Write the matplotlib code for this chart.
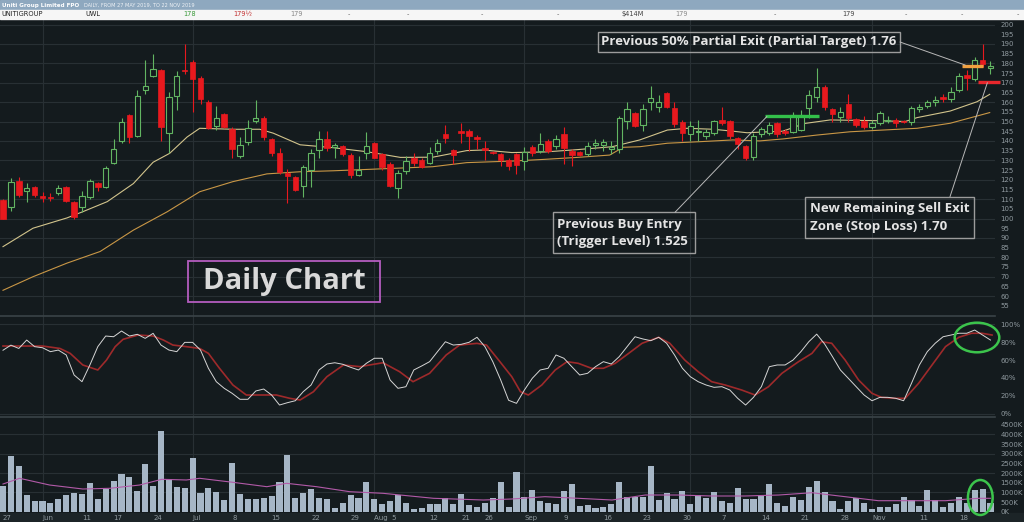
import matplotlib
matplotlib.use("Agg")
import matplotlib.pyplot as plt
from matplotlib.patches import Rectangle, Ellipse, ConnectionPatch

# ---- data (UWL daily, 27 May - 22 Nov 2019, cents) ----
opens = [109.5, 106, 119.5, 114.3, 116.4, 111.6, 111, 113, 116.4, 108.7,
         105.8, 111.2, 118.4, 116, 128.5, 140, 153.4, 142.5, 166, 173.6,
         176.5, 144, 163, 176.6, 180.5, 172.6, 160.2, 147.8, 153.7, 146,
         132.2, 139.6, 150.3, 152, 140.8, 133.6, 123.6, 121.2, 116.8, 125,
         135.3, 141, 136.7, 137.4, 132.7, 122.4, 133.9, 138.8, 133.1, 128,
         115.6, 124.6, 131, 130.2, 128.8, 134.8, 143.4, 135.3, 145.1, 145,
         142.2, 136.2, 134, 133.1, 130.2, 133, 129.6, 136.7, 135, 140.1,
         137.5, 143.6, 135, 134.3, 133.2, 137.9, 138, 135.7, 135.7, 150.3,
         154.2, 148.2, 159.9, 157.6, 164.5, 157, 150, 143.6, 144.8, 142.5,
         143.9, 150.8, 150.3, 141.3, 137.4, 131.9, 143.6, 143.9, 149.1, 145.1,
         144.7, 145.6, 157.1, 162.5, 168, 156.4, 152.5, 159, 151.3, 150.3,
         147.3, 149.1, 150.5, 150.8, 150.3, 149.6, 156.4, 158, 159.9, 162.5,
         161.4, 166.2, 174, 172, 181.7, 177.7]
highs = [110, 121, 121.5, 118.3, 117, 113.5, 113, 117.5, 117, 109,
         114, 120.5, 119, 127, 141, 151.6, 154, 166, 181.7, 184.6,
         177, 165, 176, 189.8, 181.7, 173.5, 161, 158, 154.5, 147,
         142, 151, 161, 153, 141.5, 136.5, 125.4, 122, 127.5, 136,
         145.3, 145, 139, 138, 134, 132, 144.6, 139.5, 134, 129,
         125, 132, 134, 131, 137, 141, 148.4, 136, 149, 146,
         143, 140, 135, 134, 131, 134, 137, 138, 144.3, 141,
         143, 147.2, 136, 135, 139.5, 141, 141, 140, 153, 159.8,
         155, 159, 168.3, 163.5, 165, 160, 151, 150.5, 151, 146,
         151, 157.7, 151, 142, 138, 144, 147, 150, 150, 146,
         155, 156, 166, 177.4, 169, 157, 157.5, 164, 152, 153,
         151, 155.5, 153, 152, 151, 158, 159, 161, 163, 164,
         168, 175, 176.8, 183, 189.8, 181]
lows = [100, 104, 111, 108.7, 111, 108.7, 109, 112, 108.5, 100,
        103.5, 110, 114, 115.5, 128, 139, 139, 142, 164, 173,
        140, 133.6, 156, 174.5, 155, 159, 146, 145.4, 146.5, 131,
        131, 138, 149, 140.5, 132, 123, 108, 114, 111, 116.4,
        131, 135, 131, 132, 121, 122, 130.5, 131, 125, 116,
        110.4, 123, 127, 126, 128, 133, 139, 128, 139, 135,
        136, 130, 133, 127, 125, 123, 125, 132, 134, 134,
        136, 128, 127, 132, 132, 136, 135, 133, 134, 146,
        147, 145, 156, 155, 157, 147, 140, 140, 140, 141,
        143, 148, 141, 136, 130, 130, 142, 143, 142, 143,
        144, 145, 152, 160, 156, 150, 150, 150, 147, 146,
        146, 148, 149, 147, 149, 148, 155, 157, 158, 160,
        160, 165, 166, 171, 178, 174.5]
closes = [100, 119, 112, 115.6, 112, 110.4, 110.5, 115.6, 109, 100.6,
          111.6, 119.5, 116.4, 126, 135.7, 149.6, 142.2, 163, 168.3, 177,
          147.3, 162.5, 173.6, 176, 171.8, 161.4, 146.8, 151.6, 147.3, 135.7,
          138, 146.8, 152, 142.2, 134, 124.1, 122, 114.7, 126.7, 134,
          141, 136.2, 137.9, 133.1, 122.4, 125, 137.5, 131.4, 126.4, 117,
          123.3, 129.8, 128.5, 126.7, 133.6, 138.8, 141.3, 132.7, 143.9, 142.7,
          141, 135.3, 133.8, 130.2, 127.1, 127.6, 134.4, 133.6, 138.2, 135,
          141, 136.2, 132.7, 132.7, 137.4, 138.8, 139.6, 137.1, 152, 156.3,
          147.7, 156.3, 162, 159.9, 157.6, 148.6, 144.2, 147.8, 145.3, 144.4,
          150.3, 149.1, 142.5, 138.2, 131, 142.5, 146, 148.2, 143.4, 143.9,
          153.4, 153.4, 163.7, 168, 157.6, 153.9, 154.7, 151.6, 148.2, 147.3,
          149.4, 154.5, 151, 149.4, 149.8, 156.8, 157.6, 160.2, 161, 161.4,
          165.4, 173.6, 172.6, 181.7, 179.5, 178.8]
volume_k = [1345, 2896, 2363, 863, 569, 569, 434, 641, 863, 951,
            915, 1468, 641, 1158, 1603, 1949, 1810, 1086, 2466, 1345,
            4188, 1675, 1262, 1241, 2761, 951, 1210, 1034, 605, 2534,
            900, 657, 657, 724, 812, 1551, 2932, 724, 982, 1174,
            693, 641, 176, 465, 863, 693, 1520, 657, 398, 569,
            848, 434, 155, 176, 398, 398, 693, 398, 915, 346,
            227, 465, 724, 1551, 227, 2037, 776, 1107, 553, 465,
            398, 1055, 1432, 295, 346, 191, 259, 383, 1520, 776,
            745, 745, 2363, 605, 982, 657, 1086, 398, 863, 693,
            1019, 569, 434, 1210, 657, 657, 863, 1432, 465, 310,
            745, 605, 1293, 1588, 1019, 569, 140, 569, 724, 434,
            140, 259, 259, 383, 776, 605, 310, 1107, 605, 259,
            465, 776, 465, 1122, 1174, 434]
stoch_k = [71, 76.7, 73, 82.4, 75, 73.8, 69.4, 71.2, 65.7, 43.3,
           35.8, 54.5, 75, 86.9, 86.1, 92.5, 86.9, 88.8, 84.3, 89.9,
           76.8, 71.2, 69.4, 79.8, 79.8, 71.2, 50.8, 35.8, 28.4, 22.8,
           16.1, 16.1, 25.4, 27.6, 20.9, 9.7, 12.3, 14.5, 24.6, 32.1,
           48.9, 55.6, 57.0, 55.3, 51.9, 48.9, 56.4, 62, 62, 37.7,
           28.4, 30.2, 48.9, 53.4, 58.2, 69.4, 80.5, 76.8, 77.6, 79.9,
           85.5, 75, 58.2, 37.7, 15, 11.6, 26.5, 39.6, 48.9, 50.8,
           65.7, 62, 52.6, 43.3, 45.2, 52.6, 58.2, 55.6, 63.8, 75,
           86.1, 83.6, 81.7, 85.5, 78.8, 65.7, 50.8, 41.4, 35.8, 32.1,
           29.5, 30.2, 26.5, 17.2, 9.7, 18.3, 30.2, 52.6, 54.5, 54.5,
           60, 69.4, 80.5, 89, 78, 63.8, 48.9, 39.6, 30.2, 20.9,
           14.5, 18.3, 18.3, 17.2, 14.5, 34, 54.5, 69.4, 78.8, 86.1,
           88, 90, 90, 93.6, 88, 82.4]
stoch_d_idx = [0, 2, 5, 7.2, 8.5, 10.1, 12, 13.1, 14.2, 15.2, 17.1, 19, 20.3, 21.5,
               23.2, 24.9, 26, 27.4, 29.1, 30.8, 32.9, 34.6, 36.3, 37.6, 39.3, 41,
               43.1, 45.2, 46.4, 48.1, 50.2, 51.9, 54, 56.1, 57.8, 60, 61.2, 62.9,
               64.4, 65.5, 66.5, 68.2, 69.9, 71.4, 72.8, 74.5, 76, 77.5, 79.2, 80.9,
               83, 84.4, 86.3, 88, 89.7, 91.4, 93.5, 95.2, 96.9, 98.6, 100.7, 102.4,
               103.6, 104.9, 106.6, 108.3, 110, 111.2, 112.9, 114.2, 115.9, 117.6,
               119.3, 121, 122.6, 123.9, 125.2]
stoch_d = [75.7, 75.7, 75.7, 73, 67.5, 54.5, 48.9, 60, 75, 83.2, 88, 86.9, 82.4, 76.8,
           75, 73, 67.5, 50.8, 32.1, 20.9, 20.9, 20.9, 17.2, 15.3, 24.6, 41.4,
           54.5, 52.6, 54.5, 57, 47, 35.8, 45.2, 65.7, 76.8, 78.7, 76.8, 58.2,
           41.4, 24.6, 20.9, 32.1, 48.9, 58.2, 56.4, 50.8, 50.8, 56.4, 67.5, 78.8,
           85.5, 78.8, 60, 47, 35.8, 32.1, 26.5, 20.9, 30.2, 45.2, 58.2, 67.5,
           80.5, 78.8, 60, 37.7, 22.8, 18.3, 17.2, 17.2, 34, 54.5,
           75, 85.5, 90, 90, 88]
ma_fast_idx = [0, 3.8, 8.1, 10.1, 13.2, 16.5, 19, 21.1, 23.3, 24.9, 29.1, 32.5, 34.2,
               37.6, 41.8, 46.1, 50.3, 54.4, 58.7, 60.8, 64.4, 68.6, 72.7, 77.1, 80.6,
               84.1, 86.6, 89.9, 92.4, 94.2, 95.8, 98.7, 101.5, 104.7, 111, 114.2,
               115.7, 119.9, 123.3, 124.9]
ma_fast = [85.5, 95, 100.3, 103.5, 108.7, 118, 129, 133.6, 142, 146.5, 146, 146, 144,
           138, 136.5, 134.4, 131.5, 131.6, 135, 135.3, 134, 134.3, 135.5, 137, 140.5,
           145.6, 146.5, 146, 145, 144.2, 144.5, 145, 149, 150.8, 150.4, 150,
           152, 155.4, 160.2, 164]
ma_slow_idx = [0, 3.8, 8.1, 12.3, 16.5, 20.8, 24.9, 29.1, 33.4, 37.6, 41.8, 46.1, 50.3,
               54.4, 58.7, 64.4, 68.6, 72.7, 76.8, 78.5, 80.6, 84.1, 88.2, 92.4, 95.8,
               98.7, 103, 107.2, 111.4, 115.7, 119.9, 124.9]
ma_slow = [63, 70, 77, 83, 94, 103.5, 113.8, 119, 123, 124.1, 124.6, 125.3, 126,
           126.7, 128.8, 129.6, 130.5, 131.5, 132.7, 136.7, 137, 138.8, 139.6, 140.5, 140,
           141, 143, 144.7, 145.6, 146.5, 149.1, 154.6]
vol_ma_idx = [0, 2.1, 5.9, 10.1, 13.5, 17.3, 20.1, 23.2, 24.9, 29.1, 33.4, 35.9, 39.7,
              43.9, 48.1, 54.5, 60.8, 64.4, 68.6, 72.8, 77.1, 81.3, 85.5, 89.7, 93.9,
              98.2, 102.4, 106.6, 110.8, 115, 119.3, 123.5, 125]
vol_ma = [1432, 1727, 1380, 1174, 1210, 1380, 1675, 1640, 1727, 1520, 1293, 1468, 1293,
          1034, 951, 693, 605, 657, 776, 693, 605, 863, 863, 812, 812,
          863, 982, 776, 569, 569, 569, 693, 693]

date_ticks = [0, 5, 10, 14, 19, 24, 29, 34, 39, 44, 47, 54, 58, 61, 66, 71, 76, 81,
              86, 91, 96, 101, 106, 110, 116, 121]
date_labels = ['27', 'Jun', '11', '17', '24', 'Jul', '8', '15', '22', '29', 'Aug  5',
               '12', '21', '26', 'Sep', '9', '16', '23', '30', '7', '14', '21', '28',
               'Nov', '11', '18']
month_lines = [5, 24, 47, 66, 87, 110]

# drawn trade levels (price, first candle, last candle)
partial_exit = (178.8, 121.4, 124.0)
stop_loss = (170.2, 123.4, 126.2)
buy_entry = (152.8, 96.5, 103.3)

header_items = [('UNITIGROUP', 1, '#222222'), ('UWL', 85, '#222222'), ('178', 183, '#3a9a3a'),
                ('179½', 233, '#c23030'), ('179', 290, '#888888'), ('-', 348, '#666666'),
                ('-', 407, '#666666'), ('-', 481, '#666666'), ('-', 557, '#666666'),
                ('$414M', 621, '#444444'), ('179', 675, '#888888'), ('-', 774, '#666666'),
                ('179', 842, '#444444'), ('-', 905, '#666666'), ('-', 961, '#666666'),
                ('-', 1017, '#666666')]

# ---- layout ----
W, H = 1024, 522
BG = '#141b1e'
GRID = '#283034'
TXT = '#8f999e'
X_RIGHT = 995


def px_box(top, bottom, left=0, right=X_RIGHT):
    return [left / W, 1 - bottom / H, (right - left) / W, (bottom - top) / H]


fig = plt.figure(figsize=(W / 100, H / 100), dpi=100)
fig.patch.set_facecolor(BG)
fig.patches.append(Rectangle((0, 0), 1, 9 / H, transform=fig.transFigure,
                             color='#1c2427', zorder=-5))

ax_p = fig.add_axes(px_box(19, 316))
ax_s = fig.add_axes(px_box(316, 417))
ax_v = fig.add_axes(px_box(417, 513))

n = len(closes)
for ax in (ax_p, ax_s, ax_v):
    ax.set_facecolor(BG)
    ax.set_xlim(-0.38, 125.57)
    for sp in ax.spines.values():
        sp.set_visible(False)
    ax.yaxis.tick_right()
    ax.tick_params(axis='y', length=0, pad=4, labelsize=5, colors=TXT)
    ax.tick_params(axis='x', length=0)
    for m in month_lines:
        ax.axvline(m, color=GRID, lw=0.8, zorder=0)

ax_p.set_xticks([])
ax_s.set_xticks([])

# price panel
ax_p.set_ylim(49.74, 202.84)
ax_p.set_yticks(range(55, 201, 5))
for lvl in range(60, 201, 10):
    ax_p.axhline(lvl, color=GRID, lw=0.8, zorder=0)

for i in range(n):
    o, h, l, c = opens[i], highs[i], lows[i], closes[i]
    up = c >= o
    col = '#62b562' if up else '#e8191e'
    ax_p.vlines(i, l, h, color=col, lw=0.8, zorder=2)
    bot = min(o, c)
    hgt = max(abs(c - o), 0.4)
    if up:
        ax_p.add_patch(Rectangle((i - 0.33, bot), 0.66, hgt, facecolor=BG,
                                 edgecolor=col, lw=0.8, zorder=3))
    else:
        ax_p.add_patch(Rectangle((i - 0.35, bot), 0.7, hgt, facecolor=col,
                                 edgecolor=col, lw=0.5, zorder=3))

ax_p.plot(ma_fast_idx, ma_fast, color='#d2c48c', lw=0.8, zorder=1)
ax_p.plot(ma_slow_idx, ma_slow, color='#c99746', lw=0.8, zorder=1)

ax_p.hlines(partial_exit[0], partial_exit[1], partial_exit[2], color='#f0a040', lw=2.4, zorder=4)
ax_p.hlines(stop_loss[0], stop_loss[1], stop_loss[2], color='#e8272c', lw=2.4, zorder=4,
            clip_on=False)
ax_p.hlines(buy_entry[0], buy_entry[1], buy_entry[2], color='#33c04a', lw=2.4, zorder=4)

# stochastic panel
ax_s.set_ylim(-3.7, 109.3)
ax_s.set_yticks(range(0, 101, 20))
ax_s.set_yticklabels([f'{v}%' for v in range(0, 101, 20)])
for lvl in (0, 100):
    ax_s.axhline(lvl, color=GRID, lw=0.8, zorder=0)
ax_s.plot(stoch_d_idx, stoch_d, color='#9e2a2b', lw=1.2, zorder=2)
ax_s.plot(range(n), stoch_k, color='#d6d6d6', lw=0.7, zorder=3)

# volume panel
ax_v.set_ylim(-67, 4897)
ax_v.set_yticks(range(0, 4501, 500))
ax_v.set_yticklabels([f'{v}K' for v in range(0, 4501, 500)])
for lvl in range(1000, 4001, 1000):
    ax_v.axhline(lvl, color=GRID, lw=0.8, zorder=0)
ax_v.bar(range(n), volume_k, width=0.78, color='#a6b6c6', zorder=2)
ax_v.plot(vol_ma_idx, vol_ma, color='#b25aa8', lw=0.8, zorder=3)
ax_v.set_xticks(date_ticks)
ax_v.set_xticklabels(date_labels, ha='left')
ax_v.tick_params(axis='x', pad=1.5, labelsize=5, colors=TXT)

# panel separators
for ax in (ax_s, ax_v):
    ax.axhline(ax.get_ylim()[1], color='#3a4347', lw=1.2, clip_on=False)

# ---- overlay in pixel coords: header, notes ----
ov = fig.add_axes([0, 0, 1, 1], zorder=10)
ov.set_xlim(0, W)
ov.set_ylim(H, 0)
ov.axis('off')
ov.patch.set_alpha(0)

ov.add_patch(Rectangle((0, 0), W, 9.5, color='#8ea8bf'))
ov.add_patch(Rectangle((0, 9.5), W, 9.5, color='#f6f6f6'))
ov.text(2, 5, 'Uniti Group Limited FPO', fontsize=4.1, fontweight='bold', color='white',
        va='center')
ov.text(84, 5.2, 'DAILY, FROM 27 MAY 2019, TO 22 NOV 2019', fontsize=3.6, color='#eef2f6',
        va='center')
for label, xpos, col in header_items:
    ov.text(xpos, 14.2, label, fontsize=4.8, color=col, va='center')

note_font = dict(family='Open Sans', fontweight='bold', color='#e4e4e4')

ov.add_patch(Rectangle((598, 31.7), 302, 20, fill=False, ec='#9c9c9c', lw=1))
ov.text(749, 42, 'Previous 50% Partial Exit (Partial Target) 1.76', fontsize=9.5,
        ha='center', va='center', **note_font)

ov.add_patch(Rectangle((552.7, 212.3), 142, 41, fill=False, ec='#9c9c9c', lw=1))
ov.text(557, 233, 'Previous Buy Entry\n(Trigger Level) 1.525', fontsize=9.5,
        ha='left', va='center', linespacing=1.45, **note_font)

ov.add_patch(Rectangle((805, 196.7), 169, 41.6, fill=False, ec='#9c9c9c', lw=1))
ov.text(810, 217.5, 'New Remaining Sell Exit\nZone (Stop Loss) 1.70', fontsize=9.5,
        ha='left', va='center', linespacing=1.45, **note_font)

ov.add_patch(Rectangle((188, 261), 192, 40.7, fill=False, ec='#b45dbf', lw=1.3))
ov.text(284, 281.5, 'Daily Chart', fontsize=21, ha='center', va='center',
        family='Open Sans', fontweight='bold', color='#d9d9d9')

for start, target in (((900, 42), (121.8, 179.1)),
                      ((675, 212.3), (96.7, 152.6)),
                      ((950, 196.7), (124.6, 170.0))):
    fig.add_artist(ConnectionPatch(xyA=start, coordsA=ov.transData, xyB=target,
                                   coordsB=ax_p.transData, color='#b8b8b8', lw=0.7,
                                   zorder=11))

ov.add_patch(Ellipse((977, 337.5), 44.6, 29.6, fill=False, ec='#3cc44c', lw=1.8))
ov.add_patch(Ellipse((980.3, 497.5), 24.7, 35, fill=False, ec='#3cc44c', lw=1.8))

fig.savefig('out.png', dpi=100, facecolor=fig.get_facecolor())
